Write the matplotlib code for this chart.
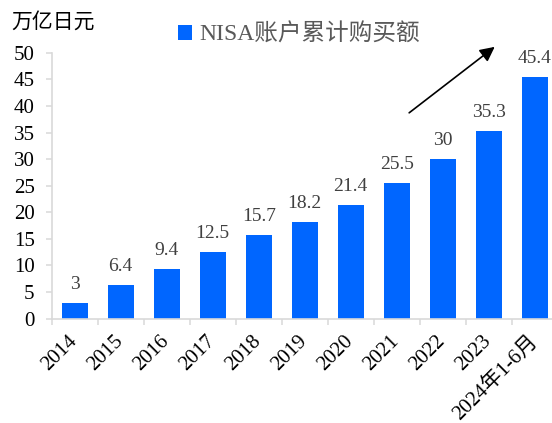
import matplotlib
matplotlib.use("Agg")
import matplotlib.pyplot as plt
import numpy as np

plt.rcParams["font.family"] = ["Liberation Serif", "Noto Sans CJK SC"]

# ── Data ──────────────────────────────────────────────────────────────────────
categories = ["2014", "2015", "2016", "2017", "2018", "2019", "2020",
              "2021", "2022", "2023", "2024年1-6月"]
values = [3, 6.4, 9.4, 12.5, 15.7, 18.2, 21.4, 25.5, 30, 35.3, 45.4]
value_labels = ["3", "6.4", "9.4", "12.5", "15.7", "18.2", "21.4",
                "25.5", "30", "35.3", "45.4"]
series_name = "NISA账户累计购买额"
unit = "万亿日元"
y_ticks = list(range(0, 55, 5))
arrow_start = (7.27, 38.7)   # data coords, trend arrow
arrow_end = (9.13, 51.1)

bar_color = "#0066FF"
axis_grey = "#D9D9D9"

# ── Plot ──────────────────────────────────────────────────────────────────────
fig = plt.figure(figsize=(5.52, 4.23), dpi=100)
ax = fig.add_axes([0.0937, 0.2466, 0.9167, 0.6288])

x = np.arange(len(categories))
bars = ax.bar(x, values, width=0.56, color=bar_color, label=series_name, zorder=2)

for xi, v, lab in zip(x, values, value_labels):
    ax.annotate(lab, (xi, v), xytext=(0, 7), textcoords="offset points",
                ha="center", va="bottom", fontsize=14, color="#404040")

ax.set_xlim(-0.5, len(categories) - 0.5)
ax.set_ylim(0, 50)
ax.set_yticks(y_ticks)
ax.tick_params(axis="y", length=4.3, width=1.1, color=axis_grey, pad=8,
               labelsize=15, labelcolor="black")

ax.set_xticks(x)
ax.set_xticklabels(categories)
ax.tick_params(axis="x", length=0, pad=14, labelsize=15)
for lbl in ax.get_xticklabels():
    lbl.set_rotation(45)
    lbl.set_ha("right")
    lbl.set_va("center")
    lbl.set_rotation_mode("anchor")
ax.set_xticks(np.arange(len(categories) + 1) - 0.5, minor=True)
ax.tick_params(axis="x", which="minor", length=4.3, width=1.1,
               color=axis_grey, direction="out")

for side in ("top", "right"):
    ax.spines[side].set_visible(False)
for side in ("left", "bottom"):
    ax.spines[side].set_color(axis_grey)
    ax.spines[side].set_linewidth(1.2)

ax.annotate("", xy=arrow_end, xytext=arrow_start, annotation_clip=False,
            arrowprops=dict(arrowstyle="-|>", color="black", lw=1.2,
                            mutation_scale=22, shrinkA=0, shrinkB=0))

fig.text(0.02, 0.948, unit, fontsize=15, color="black", va="center",
         family=["Noto Sans CJK SC"])
fig.legend(handles=[bars], labels=[series_name], loc="center",
           bbox_to_anchor=(0.542, 0.918), frameon=False, fontsize=17,
           labelcolor="#595959", handlelength=0.6, handleheight=0.6,
           handletextpad=0.3, borderaxespad=0)

fig.savefig("out.png", dpi=100)
